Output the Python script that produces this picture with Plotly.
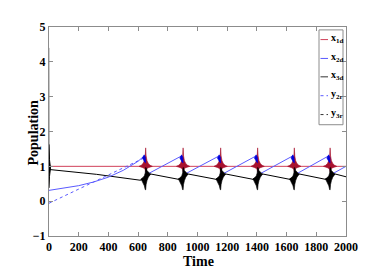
import plotly.graph_objects as go

# ---------------- data ----------------
pulse_t = [651, 903, 1156, 1405, 1652, 1893]
t_end = 2000

x1d_t = [0, 2000]
x1d_y = [1.0, 1.0]

# x2d (blue solid): first growth phase, then ramps between pulses
x2d_t0 = [0, 100, 200, 300, 400, 500, 600, 641]
x2d_y0 = [0.31, 0.37, 0.445, 0.55, 0.69, 0.885, 1.146, 1.30]
x2d_low = 0.76      # just after a pulse
x2d_high = 1.30     # just before a pulse
x2d_last = 1.0      # value at t = 2000

# y2r (blue dashed), early phase
y2r_t = [0, 315, 630]
y2r_y = [-0.06, 0.58, 1.22]

# x3d (black solid)
x3d_t0 = [0, 321, 617]
x3d_y0 = [0.91, 0.77, 0.60]
x3d_post = 0.78     # just after a pulse
x3d_pre = 0.63      # just before the next pulse
x3d_last = 0.70     # value at t = 2000

# y3r (black dashed) initial transient
y3r_t = [0, 2]
y3r_y = [4.4, 1.0]

# initial transient burst of x3d at t = 0
burst0_t = [0, 3, 10, 3, 0]
burst0_y = [1.63, 1.2, 0.95, 0.7, 0.38]

# oscillation envelopes around each pulse (half-widths in time)
env_dt = [0, 3, 9, 18, 30, 45]
red_up = [0.53, 0.30, 0.16, 0.08, 0.03, 0.0]
red_dn = [0.15, 0.10, 0.06, 0.04, 0.015, 0.0]
blk_dt = [0, 3, 9, 18, 26, 34]
blk_up = [0.26, 0.18, 0.10, 0.05, 0.02, 0.0]
blk_dn = [0.38, 0.30, 0.19, 0.09, 0.04, 0.0]
blob_dt = [-22, -10, -2, 0, -6]
blob_y = [1.24, 1.33, 1.26, 1.10, 1.12]

RED_LINE = "#d0405a"
RED_FILL = "#a8122e"
BLUE_LINE = "#5a5aff"
BLUE_FILL = "#0000d8"
BLACK = "#000000"
AXIS = "#8c8c8c"

fig = go.Figure()

def add(x, y, color, width=1, dash="solid", fill=None, fillcolor=None):
    fig.add_trace(go.Scatter(x=x, y=y, mode="lines",
                             line=dict(color=color, width=width, dash=dash),
                             fill=fill, fillcolor=fillcolor,
                             hoverinfo="skip", showlegend=False))

# red baseline
add(x1d_t, x1d_y, RED_LINE, 1)

# black x3d
bt = list(x3d_t0)
by = list(x3d_y0)
for i, p in enumerate(pulse_t):
    bt.append(p + blk_dt[-1]); by.append(x3d_post)
    if i + 1 < len(pulse_t):
        bt.append(pulse_t[i + 1] - blk_dt[-1]); by.append(x3d_pre)
bt.append(t_end); by.append(x3d_last)
add(bt, by, BLACK, 1)

# y3r early transient
add(y3r_t, y3r_y, "#a0a0a0", 1)

# blue dashed y2r
add(y2r_t, y2r_y, BLUE_LINE, 1, dash="dot")

# blue solid x2d
xt = list(x2d_t0)
xy = list(x2d_y0)
for i, p in enumerate(pulse_t):
    xt.append(p + 5); xy.append(x2d_low)
    if i + 1 < len(pulse_t):
        xt.append(pulse_t[i + 1] - 10); xy.append(x2d_high)
xt.append(t_end); xy.append(x2d_last)
add(xt, xy, BLUE_LINE, 1)

# spikes
full_dt = [-d for d in env_dt[::-1]] + env_dt[1:]
r_up = red_up[::-1] + red_up[1:]
r_dn = red_dn[::-1] + red_dn[1:]
fb_dt = [-d for d in blk_dt[::-1]] + blk_dt[1:]
b_up = blk_up[::-1] + blk_up[1:]
b_dn = blk_dn[::-1] + blk_dn[1:]
nb = len(blk_dt)
for p in pulse_t:
    sx = [p + d for d in full_dt]
    ux = sx + sx[::-1]
    uy = [1.0 + a for a in r_up] + [1.0 - a for a in r_dn][::-1]
    add(ux, uy, RED_FILL, 0.6, fill="toself", fillcolor=RED_FILL)
for p in pulse_t:
    sx = [p + d for d in fb_dt]
    base = [x3d_pre] * (nb - 1) + [(x3d_pre + x3d_post) / 2] + [x3d_post] * (nb - 1)
    ux = sx + sx[::-1]
    uy = [b + a for b, a in zip(base, b_up)] + [b - a for b, a in zip(base, b_dn)][::-1]
    add(ux, uy, BLACK, 0.6, fill="toself", fillcolor=BLACK)
for p in pulse_t:
    add([p + d for d in blob_dt] + [p + blob_dt[0]], blob_y + [blob_y[0]],
        BLUE_FILL, 0.6, fill="toself", fillcolor=BLUE_FILL)

add(burst0_t, burst0_y, BLACK, 1, fill="toself", fillcolor=BLACK)

# ---------------- layout ----------------
# the page body has an 8px margin, so the figure is offset by 8px
OFF = 8
W, H = 382 - OFF, 273 - OFF
PL, PR, PT, PB = 49, 346, 20.5, 236.5          # plot area in page pixels
L, T = PL - OFF, round(PT - OFF)
R = W - L - (PR - PL)
B = H - T - round(PB - PT)
PW, PH = PR - PL, round(PB - PT)

def px(x):
    return (x - PL) / PW

def py(y):
    return (T + OFF + PH - y) / PH

tickfont = dict(family="Liberation Serif", size=12, color="black", weight="bold")
axis_common = dict(showline=True, linecolor=AXIS, linewidth=1, mirror="ticks",
                   ticks="inside", ticklen=4, tickcolor=AXIS, showgrid=False,
                   zeroline=False, tickfont=tickfont)

fig.update_layout(
    width=W, height=H,
    margin=dict(l=L, r=R, t=T, b=B, pad=0),
    paper_bgcolor="white", plot_bgcolor="white",
    xaxis=dict(range=[0, 2000], tickvals=list(range(0, 2001, 200)), **axis_common),
    yaxis=dict(range=[-1, 5], tickvals=list(range(-1, 6)), **axis_common),
)

title_font = dict(family="Liberation Serif", size=14, color="black", weight="bold")
fig.add_annotation(text="Time", xref="paper", yref="paper", x=px(198), y=py(262),
                   xanchor="center", yanchor="middle", showarrow=False, font=title_font)
fig.add_annotation(text="Population", xref="paper", yref="paper", x=px(33), y=py(129),
                   xanchor="center", yanchor="middle", showarrow=False, textangle=-90,
                   font=title_font)

# manual legend
legend_names = ["x<sub>1d</sub>", "x<sub>2d</sub>", "x<sub>3d</sub>", "y<sub>2r</sub>", "y<sub>3r</sub>"]
legend_colors = [RED_LINE, BLUE_LINE, "#333333", BLUE_LINE, "#333333"]
legend_dash = ["solid", "solid", "solid", "dot", "dot"]
legend_ys = [33, 52.5, 71.5, 91, 110.5]
fig.add_shape(type="rect", xref="paper", yref="paper", x0=px(319), x1=px(343),
              y0=py(121), y1=py(23), line=dict(color=AXIS, width=1), fillcolor="white")
for name, c, d, yy in zip(legend_names, legend_colors, legend_dash, legend_ys):
    fig.add_shape(type="line", xref="paper", yref="paper", x0=px(320.5), x1=px(328),
                  y0=py(yy), y1=py(yy), line=dict(color=c, width=1, dash=d))
    fig.add_annotation(text=name, xref="paper", yref="paper", x=px(328.5), y=py(yy - 1),
                       xanchor="left", yanchor="middle", showarrow=False,
                       font=dict(family="Liberation Serif", size=10, color="black",
                                 weight="bold"))

fig.write_html("out.html")
